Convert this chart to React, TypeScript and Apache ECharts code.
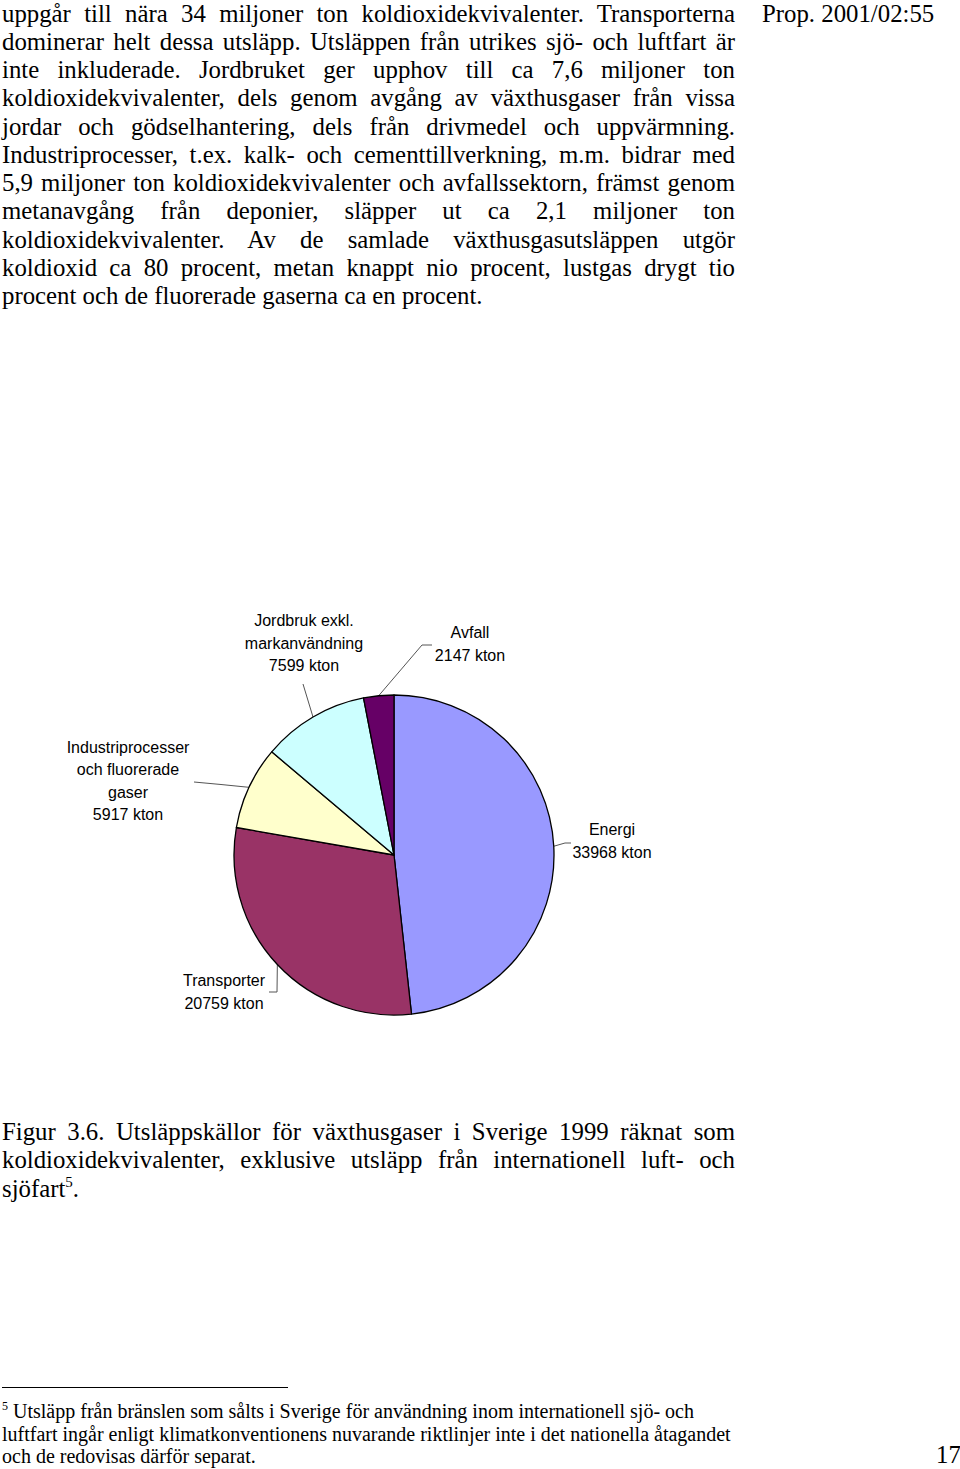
import React, { useEffect, useRef } from "react";
import * as echarts from "echarts";

// ---------- chart data ----------
const categories = [
  "Energi",
  "Transporter",
  "Industriprocesser\noch fluorerade\ngaser",
  "Jordbruk exkl.\nmarkanvändning",
  "Avfall",
];
const values = [33968, 20759, 5917, 7599, 2147];
const unit = "kton";
const sliceColors = ["#9999FF", "#993366", "#FFFFCC", "#CCFFFF", "#660066"];

// ---------- page text ----------
const bodyLines = [
  "uppgår till nära 34 miljoner ton koldioxidekvivalenter. Transporterna",
  "dominerar helt dessa utsläpp. Utsläppen från utrikes sjö- och luftfart är",
  "inte inkluderade. Jordbruket ger upphov till ca 7,6 miljoner ton",
  "koldioxidekvivalenter, dels genom avgång av växthusgaser från vissa",
  "jordar och gödselhantering, dels från drivmedel och uppvärmning.",
  "Industriprocesser, t.ex. kalk- och cementtillverkning, m.m. bidrar med",
  "5,9 miljoner ton koldioxidekvivalenter och avfallssektorn, främst genom",
  "metanavgång från deponier, släpper ut ca 2,1 miljoner ton",
  "koldioxidekvivalenter. Av de samlade växthusgasutsläppen utgör",
  "koldioxid ca 80 procent, metan knappt nio procent, lustgas drygt tio",
  "procent och de fluorerade gaserna ca en procent.",
];
const headerRight = "Prop. 2001/02:55";
const captionLines = [
  "Figur 3.6. Utsläppskällor för växthusgaser i Sverige 1999 räknat som",
  "koldioxidekvivalenter, exklusive utsläpp från internationell luft- och",
  "sjöfart",
];
const footnoteMark = "5";
const footnoteLines = [
  "Utsläpp från bränslen som sålts i Sverige för användning inom internationell sjö- och",
  "luftfart ingår enligt klimatkonventionens nuvarande riktlinjer inte i det nationella åtagandet",
  "och de redovisas därför separat.",
];
const pageNumber = "17";

// ---------- layout (page pixels) ----------
const PIE_CENTER = [394, 855];
const PIE_RADIUS = 160;
const labelCenters = [
  [612, 841],
  [224, 992],
  [128, 781],
  [304, 643],
  [470, 644],
];
const labelLineRest = [
  [[565, 843], [571, 843]],
  [[277, 992], [269, 992]],
  [[221, 784.5], [194, 782]],
  [[303, 684], [303, 684]],
  [[422, 645], [432, 645]],
];

const SERIF = "'Liberation Serif', 'Times New Roman', serif";
const BODY_FS = 24.8;
const FOOT_FS = 20;

function topFromBaseline(baseline: number, fs: number) {
  return baseline - 0.8375 * fs;
}

function Line(props: {
  text: React.ReactNode;
  baseline: number;
  fs: number;
  left?: number;
  width?: number;
  justify?: boolean;
}) {
  const { text, baseline, fs, left = 2, width = 733, justify = false } = props;
  return (
    <div
      style={{
        position: "absolute",
        left,
        top: topFromBaseline(baseline, fs),
        width: justify ? width : undefined,
        fontFamily: SERIF,
        fontSize: fs,
        lineHeight: fs + "px",
        color: "#000",
        textAlign: justify ? "justify" : "left",
        textAlignLast: justify ? "justify" : "auto",
        whiteSpace: justify ? "normal" : "nowrap",
      } as React.CSSProperties}
    >
      {text}
    </div>
  );
}

export default function App() {
  const ref = useRef<HTMLDivElement>(null);

  useEffect(() => {
    if (!ref.current) return;
    const chart = echarts.init(ref.current, undefined, { renderer: "svg" });
    chart.setOption({
      animation: false,
      backgroundColor: "transparent",
      series: [
        {
          type: "pie",
          center: PIE_CENTER,
          radius: PIE_RADIUS,
          startAngle: 90,
          clockwise: true,
          avoidLabelOverlap: false,
          silent: true,
          data: categories.map((name, i) => ({
            name,
            value: values[i],
            itemStyle: { color: sliceColors[i] },
          })),
          itemStyle: { borderColor: "#000", borderWidth: 1.3 },
          label: {
            show: true,
            position: "outside",
            formatter: (p: any) => `${p.name}\n${p.value} ${unit}`,
            fontFamily: "'Liberation Sans', Arial, sans-serif",
            fontSize: 16,
            lineHeight: 22.5,
            color: "#000",
            align: "center",
          },
          labelLine: {
            show: true,
            lineStyle: { color: "#555", width: 1 },
          },
          labelLayout: (params: any) => {
            const i = params.dataIndex;
            const rest = labelLineRest[i];
            const p0 =
              params.labelLinePoints && params.labelLinePoints[0]
                ? params.labelLinePoints[0]
                : rest[0];
            return {
              x: labelCenters[i][0],
              y: labelCenters[i][1],
              align: "center",
              verticalAlign: "middle",
              labelLinePoints: [p0, rest[0], rest[1]],
            };
          },
        },
      ],
    });
    return () => chart.dispose();
  }, []);

  const bodyBase = 22.3;
  const bodyStep = 28.25;

  return (
    <div
      style={{
        position: "absolute",
        left: 0,
        top: 0,
        width: 960,
        height: 1469,
        background: "#fff",
        overflow: "hidden",
      }}
    >
      <div
        ref={ref}
        style={{ position: "absolute", left: 0, top: 0, width: 960, height: 1469 }}
      />
      <div style={{ position: "absolute", left: 0, top: 0, width: 960, height: 1469, pointerEvents: "none" }}>
        {bodyLines.map((t, i) => (
          <Line
            key={"b" + i}
            text={t}
            baseline={bodyBase + i * bodyStep}
            fs={BODY_FS}
            justify={i < bodyLines.length - 1}
          />
        ))}
        <Line text={headerRight} baseline={bodyBase} fs={BODY_FS} left={762} />
        {captionLines.map((t, i) => (
          <Line
            key={"c" + i}
            text={
              i === captionLines.length - 1 ? (
                <>
                  {t}
                  <span style={{ fontSize: 15, position: "relative", top: -10 }}>{footnoteMark}</span>.
                </>
              ) : (
                t
              )
            }
            baseline={1141 + i * 28.2}
            fs={BODY_FS}
            justify={i < captionLines.length - 1}
          />
        ))}
        <div
          style={{
            position: "absolute",
            left: 2,
            top: 1386.5,
            width: 286,
            height: 1.5,
            background: "#000",
          }}
        />
        {footnoteLines.map((t, i) => (
          <Line
            key={"f" + i}
            text={
              i === 0 ? (
                <>
                  <span style={{ fontSize: 12, position: "relative", top: -8 }}>{footnoteMark}</span> {t}
                </>
              ) : (
                t
              )
            }
            baseline={1417.5 + i * 22.8}
            fs={FOOT_FS}
          />
        ))}
        <Line text={pageNumber} baseline={1463.5} fs={BODY_FS} left={936} />
      </div>
    </div>
  );
}
